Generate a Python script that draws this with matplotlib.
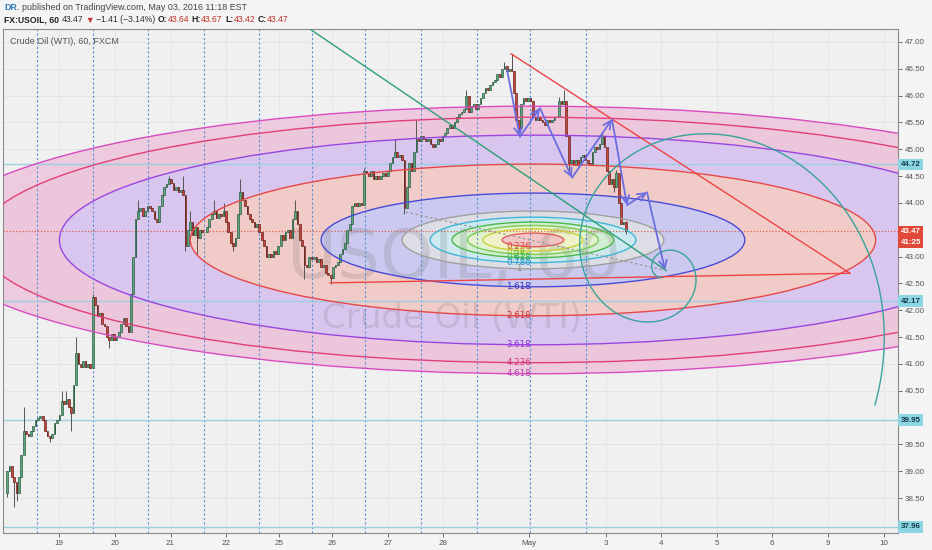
import numpy as np
import matplotlib
matplotlib.use('Agg')
import matplotlib.pyplot as plt
from matplotlib.patches import Ellipse
from matplotlib.transforms import IdentityTransform, blended_transform_factory

plt.rcParams['font.family'] = ['Liberation Sans', 'DejaVu Sans']

# ---- hourly closes, one list per session ----
first_open = 38.6
closes = (
    [39.0, 39.1, 38.9, 38.8, 38.6, 38.9, 39.3, 39.75, 39.7, 39.65, 39.75, 39.85, 39.95]
    + [40.0, 40.02, 39.95, 39.75, 39.65, 39.62, 39.7, 39.9, 39.95, 40.05, 40.3, 40.25,
       40.35, 40.2, 40.08, 40.6, 41.2, 41.0, 40.95, 41.05, 40.95, 41.0, 40.92]
    + [42.25, 42.1, 41.9, 41.95, 41.75, 41.7, 41.5, 41.45, 41.55, 41.45, 41.5, 41.6,
       41.75, 41.85, 41.7, 41.6, 42.3, 43.0, 43.7, 43.85, 43.9, 43.75, 43.85]
    + [43.95, 43.9, 43.85, 43.7, 43.65, 43.95, 44.15, 44.3, 44.35, 44.45, 44.38, 44.25,
       44.3, 44.2, 44.25, 44.15, 43.2, 43.5, 43.65, 43.4, 43.55, 43.35, 43.5, 43.45]
    + [43.45, 43.55, 43.7, 43.8, 43.85, 43.72, 43.8, 43.75, 43.85, 43.65, 43.45, 43.25,
       43.2, 43.35, 43.8, 44.2, 44.05, 43.95, 43.8, 43.7, 43.65, 43.55, 43.6]
    + [43.45, 43.3, 43.2, 43.0, 43.05, 43.0, 43.1, 43.05, 43.2, 43.4, 43.3, 43.45,
       43.5, 43.35, 43.7, 43.85, 43.6, 43.3, 43.2, 42.85, 42.8, 43.0]
    + [42.95, 43.0, 42.9, 42.95, 42.8, 42.85, 42.7, 42.65, 42.6, 42.8, 42.85, 42.9,
       43.05, 43.15, 43.25, 43.5, 43.6, 43.95, 44.0, 43.95, 44.0, 43.97, 44.6]
    + [44.55, 44.5, 44.6, 44.45, 44.5, 44.45, 44.5, 44.55, 44.5, 44.6, 44.75, 44.85,
       44.95, 44.85, 44.9, 44.8, 43.9, 44.3, 44.75, 44.6, 44.95, 45.2, 45.15]
    + [45.25, 45.2, 45.15, 45.2, 45.1, 45.05, 45.1, 45.2, 45.15, 45.25, 45.3, 45.4,
       45.45, 45.4, 45.5, 45.6, 45.65, 45.7, 45.75, 46.0, 45.7, 45.8, 45.85, 45.75]
    + [45.85, 45.95, 46.05, 46.15, 46.1, 46.2, 46.25, 46.3, 46.4, 46.35, 46.5, 46.55,
       46.45, 46.5, 46.45, 46.05, 45.55, 45.4, 45.85, 45.95, 45.9, 45.95]
    + [45.9, 45.6, 45.55, 45.6, 45.55, 45.5, 45.45, 45.55, 45.5, 45.55, 45.6, 45.6,
       45.9, 45.85, 45.9, 45.25, 44.75, 44.8, 44.7, 44.8, 44.7, 44.85, 44.9]
    + [44.8, 44.75, 44.7, 44.95, 45.05, 45.0, 45.1, 45.25, 45.05, 44.6, 44.35, 44.45,
       44.3, 44.55, 44.0, 43.6, 43.64, 43.47]
)
# wick extremes of the bars that show one
wick_high = {7: 40.2, 23: 40.5, 25: 40.5, 29: 41.5, 36: 42.3, 55: 44.05, 68: 44.5,
             74: 44.5, 77: 43.85, 87: 44.05, 91: 44.0, 98: 44.45, 121: 44.05,
             150: 44.65, 163: 45.2, 172: 45.55, 193: 46.1, 209: 46.62, 212: 46.78,
             232: 45.98, 234: 46.1, 250: 45.32, 256: 44.62, 260: 43.67}
wick_low = {0: 38.52, 3: 38.33, 4: 38.45, 18: 39.55, 27: 39.75, 43: 41.3, 75: 43.1,
            80: 43.05, 95: 43.1, 125: 42.58, 136: 42.48, 167: 43.8, 215: 45.32,
            236: 44.6, 255: 44.2, 260: 43.42}

session_breaks = [12.8, 36.0, 59.2, 82.8, 105.9, 128.2, 150.6, 174.0, 197.5, 219.7, 243.1]
day_ticks = [22.0, 45.4, 68.7, 92.2, 114.3, 136.6, 160.1, 183.2, 219.3, 251.7, 275.0,
             298.3, 321.4, 344.9, 368.5]
day_labels = ['19', '20', '21', '22', '25', '26', '27', '28', 'May', '3', '4', '5', '6', '9', '10']
price_ticks = [38.5, 39.0, 39.5, 40.5, 41.0, 41.5, 42.0, 42.5, 43.0, 44.0, 44.5,
               45.0, 45.5, 46.0, 46.5, 47.0]

# ---- drawings ----
hlines = [44.72, 42.17, 39.95, 37.96]
last_price = 43.47
fib_center = (221.0, 43.31)
fib_rx, fib_ry = 55.0, 0.54
fib_levels = [0.236, 0.382, 0.5, 0.618, 0.786, 1, 1.618, 2.618, 3.618, 4.236, 4.618]
fib_names = ['0.236', '0.382', '0.5', '0.618', '0.786', '1', '1.618', '2.618', '3.618', '4.236', '4.618']
fib_line = [(167.5, 43.83), (276.0, 42.75)]
spiral_center = (276.0, 42.75)
spiral_ref = (240.8, 43.07)
green_line = [(120.0, 47.46), (277.0, 42.74)]
red_lines = [[(211.8, 46.78), (354.2, 42.69)], [(135.7, 42.51), (354.2, 42.69)]]
zigzag = [(210.1, 46.48), (215.5, 45.23), (223.9, 45.77), (237.4, 44.47), (254.2, 45.56),
          (260.5, 43.96), (268.9, 44.20), (276.5, 42.75)]

fill_cols = ['#f2c6c6', '#eef2c8', '#e2f2cc', '#d3efd3', '#cde9ef', '#dddde6', '#cbc9ef',
             '#f1cbc8', '#d9c6ee', '#ecc6da', '#eecadf']
line_cols = ['#e35d5d', '#c9d23c', '#7acb55', '#4cb84c', '#3fb6d6', '#a0a0a0', '#4a4ad8',
             '#e54848', '#9a45e0', '#e0407a', '#d84cc0']
text_cols = ['#e04040', '#b4c020', '#60c040', '#30b060', '#3090d0', '#888888', '#3333cc',
             '#d03030', '#8a2be2', '#d0307a', '#c03cb0']

fig = plt.figure(figsize=(9.32, 5.5), dpi=100, facecolor='#f4f4f4')
ax = fig.add_axes([3 / 932, 17 / 550, 895 / 932, 504 / 550], facecolor='#f0f0f0')
ax.set_xlim(-1.68, 374.37)
ax.set_ylim(37.848, 47.242)

closes = np.array(closes)
n = len(closes)
x = np.arange(n)
opens = np.concatenate([[first_open], closes[:-1]])
highs = np.maximum(opens, closes)
lows = np.minimum(opens, closes)
for i, v in wick_high.items():
    highs[i] = v
for i, v in wick_low.items():
    lows[i] = v
opens[-1] = 43.64

# grid
for t in day_ticks:
    ax.axvline(t, color='#e2e2e2', lw=0.6, zorder=0.5)
for t in price_ticks:
    ax.axhline(t, color='#e2e2e2', lw=0.6, zorder=0.5)

# fib circles
for lvl, fc in sorted(zip(fib_levels, fill_cols), reverse=True):
    ax.add_patch(Ellipse(fib_center, 2 * fib_rx * lvl, 2 * fib_ry * lvl,
                         facecolor=fc, edgecolor='none', zorder=1))
for lvl, lc in zip(fib_levels, line_cols):
    ax.add_patch(Ellipse(fib_center, 2 * fib_rx * lvl, 2 * fib_ry * lvl,
                         facecolor='none', edgecolor=lc, lw=1.0, zorder=4))

# watermark
wm = (0.35, 0.35, 0.35, 0.16)
ax.text(0.504, 0.506, 'USOIL, 60', transform=ax.transAxes, ha='center', va='baseline',
        fontsize=49, color=wm, zorder=1.5, family='DejaVu Sans')
ax.text(0.502, 0.4067, 'Crude Oil (WTI)', transform=ax.transAxes, ha='center', va='baseline',
        fontsize=24.5, color=wm, zorder=1.5, family='DejaVu Sans')

for s in session_breaks:
    ax.axvline(s, color='#5b8fd8', ls=(0, (2, 2)), lw=0.8, zorder=2)
for h in hlines:
    ax.axhline(h, color='#9ccfe0', lw=1.0, zorder=2)
ax.axhline(last_price, color='#e0604f', ls=(0, (1, 1.5)), lw=0.9, zorder=2)

# candles
up = closes >= opens
body_col = np.where(up, '#5aa77e', '#c8453a')
edge_col = np.where(up, '#225437', '#5b1a13')
ax.vlines(x, lows, highs, color='#555555', lw=0.7, zorder=2.9)
ax.bar(x, np.abs(closes - opens), bottom=np.minimum(opens, closes), width=0.72,
       color=body_col, edgecolor=edge_col, linewidth=0.45, zorder=3)

# fib labels
for lvl, name, tc in zip(fib_levels, fib_names, text_cols):
    ax.text(fib_center[0] - 6, fib_center[1] - fib_ry * lvl, name, color=tc,
            fontsize=6.2, ha='center', va='center', zorder=5, family='DejaVu Sans')

(x1, y1), (x2, y2) = fib_line
ax.plot([x1, x2], [y1, y2], color='#9a9a9a', ls=(0, (2, 2)), lw=0.9, zorder=4)

# lines
(gx1, gy1), (gx2, gy2) = green_line
ax.plot([gx1, gx2], [gy1, gy2], color='#2e9e78', lw=1.0, zorder=4)
for seg in red_lines:
    ax.plot([seg[0][0], seg[1][0]], [seg[0][1], seg[1][1]], color='#ee4444', lw=1.0, zorder=4)

for a, b in zip(zigzag[:-1], zigzag[1:]):
    ax.annotate('', xy=b, xytext=a, zorder=5,
                arrowprops=dict(arrowstyle='->,head_length=0.55,head_width=0.28',
                                color='#6a6ee0', lw=1.3, shrinkA=0, shrinkB=0))

# fibonacci spiral (log spiral growing by phi per quarter turn, in pixel space)
cx, cy = ax.transData.transform(spiral_center)
rx_, ry_ = ax.transData.transform(spiral_ref)
r_ref = np.hypot(rx_ - cx, ry_ - cy)
th_ref = np.arctan2(ry_ - cy, rx_ - cx)
k = np.log((1 + 5 ** 0.5) / 2) / (np.pi / 2)
delta = np.radians(np.linspace(-441, 201, 800))
rr = r_ref * np.exp(k * delta)
th = th_ref - delta
pts = np.column_stack([cx + rr * np.cos(th), cy + rr * np.sin(th)])
sp = ax.transData.inverted().transform(pts)
ax.plot(sp[:, 0], sp[:, 1], color='#3aa39a', lw=1.0, zorder=4)

# axes styling
for side in ['left', 'top', 'right', 'bottom']:
    ax.spines[side].set_color('#8a8a8a')
    ax.spines[side].set_linewidth(0.8)
ax.yaxis.tick_right()
ax.set_yticks(price_ticks)
ax.set_yticklabels([f'{p:.2f}' for p in price_ticks])
ax.set_xticks(day_ticks)
ax.set_xticklabels(day_labels)
ax.tick_params(axis='both', labelsize=5.8, colors='#555555', length=3, width=0.6, pad=2)

ytrans = blended_transform_factory(ax.transAxes, ax.transData)
for h in hlines:
    ax.text(1.003, h, f'{h:.2f}', transform=ytrans, ha='left', va='center', fontsize=5.8,
            color='#123c4a', fontweight='bold', clip_on=False, zorder=6,
            bbox=dict(boxstyle='square,pad=0.28', fc='#8dd5e2', ec='none'))
ax.text(1.003, last_price, f'{last_price:.2f}', transform=ytrans, ha='left', va='center',
        fontsize=5.8, color='white', fontweight='bold', clip_on=False, zorder=6,
        bbox=dict(boxstyle='square,pad=0.28', fc='#e0493a', ec='none'))
ax.annotate('41:25', xy=(1.003, last_price), xycoords=ytrans, xytext=(0, -8),
            textcoords='offset points', ha='left', va='center', fontsize=5.8,
            color='white', fontweight='bold', annotation_clip=False, zorder=6,
            bbox=dict(boxstyle='square,pad=0.28', fc='#e0493a', ec='none'))

ax.text(7 / 895, 1 - 12.5 / 504, 'Crude Oil (WTI), 60, FXCM', transform=ax.transAxes,
        fontsize=6.5, color='#555555', va='center', ha='left', zorder=6)

# header with coloured runs
renderer = fig.canvas.get_renderer()


def runs_line(x0, y0, runs, size=6.2):
    xp = x0
    for txt, col, wt, gap in runs:
        t = fig.text(xp, y0, txt, color=col, fontsize=size, fontweight=wt,
                     transform=IdentityTransform(), va='center', ha='left')
        xp += t.get_window_extent(renderer).width + gap


runs_line(4, 550 - 7.5, [('DR.', '#2f7ab9', 'bold', 2.5),
                         ('published on TradingView.com, May 03, 2016 11:18 EST', '#444444', 'normal', 0)],
          size=6.4)
red = '#c0322b'
runs_line(4, 550 - 20, [('FX:USOIL, 60', '#222222', 'bold', 2.5),
                        ('43.47', '#333333', 'normal', 2.5),
                        ('\u25bc', red, 'normal', 2),
                        ('\u22121.41 (\u22123.14%)', '#333333', 'normal', 2.5),
                        ('O:', '#222222', 'bold', 0), ('43.64', red, 'normal', 2.5),
                        ('H:', '#222222', 'bold', 0), ('43.67', red, 'normal', 2.5),
                        ('L:', '#222222', 'bold', 0), ('43.42', red, 'normal', 2.5),
                        ('C:', '#222222', 'bold', 0), ('43.47', red, 'normal', 0)])

fig.savefig('out.png', dpi=100, facecolor=fig.get_facecolor())
